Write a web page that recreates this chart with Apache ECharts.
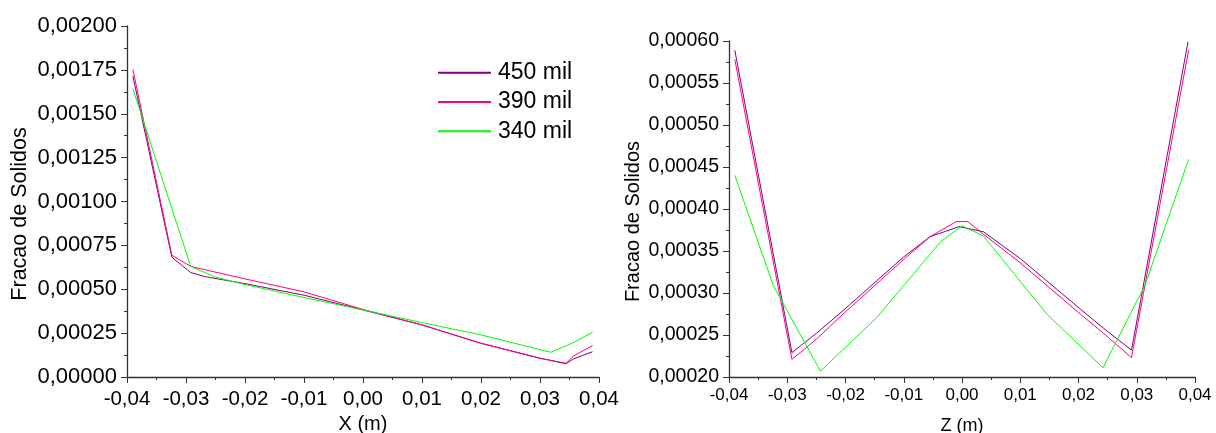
<!DOCTYPE html>
<html>
<head>
<meta charset="utf-8">
<script src="https://cdn.jsdelivr.net/npm/echarts@6/dist/echarts.min.js"></script>
<style>
html,body{margin:0;padding:0;background:#fff;}
#c{width:1216px;height:433px;}
</style>
</head>
<body>
<div id="c"></div>
<script>
// ----- Data -----
var seriesNames = ['450 mil', '390 mil', '340 mil'];
var seriesColors = ['#800080', '#FF0080', '#00FF00'];

// Left chart: X (m)
var leftX450 = [-0.039, -0.0324, -0.0292, -0.0268, -0.020, -0.010, 0.000, 0.010, 0.020, 0.030, 0.0344, 0.0357, 0.0389];
var leftY450 = [0.001714, 0.000683, 0.000595, 0.000572, 0.000532, 0.000466, 0.000382, 0.000297, 0.000192, 0.000107, 0.000076, 0.000103, 0.000144];
var leftX390 = [-0.039, -0.0324, -0.0292, -0.020, -0.010, 0.000, 0.010, 0.020, 0.030, 0.0344, 0.0357, 0.0389];
var leftY390 = [0.001752, 0.000694, 0.000630, 0.000559, 0.000485, 0.000385, 0.000297, 0.000192, 0.000107, 0.000078, 0.000120, 0.000179];
var leftX340 = [-0.039, -0.0292, -0.025, -0.020, -0.010, 0.000, 0.010, 0.020, 0.0318, 0.0354, 0.0389];
var leftY340 = [0.001642, 0.000630, 0.000569, 0.000527, 0.000453, 0.000382, 0.000310, 0.000240, 0.000141, 0.000192, 0.000255];

// Right chart: Z (m)
var rightX450 = [-0.039, -0.0292, -0.025, -0.0201, -0.010, -0.0055, -0.0005, 0.00366, 0.010, 0.0203, 0.0243, 0.0291, 0.0388];
var rightY450 = [0.000589, 0.000229, 0.000252, 0.000281, 0.000343, 0.000367, 0.000379, 0.000373, 0.000341, 0.000281, 0.000258, 0.000232, 0.000599];
var rightX390 = [-0.039, -0.0292, -0.025, -0.0201, -0.010, -0.0055, -0.001, 0.001, 0.00366, 0.010, 0.0203, 0.0243, 0.0291, 0.0389];
var rightY390 = [0.000578, 0.000221, 0.000245, 0.000277, 0.000340, 0.000367, 0.000385, 0.000385, 0.000370, 0.000336, 0.000275, 0.000252, 0.000223, 0.000589];
var rightX340 = [-0.039, -0.0324, -0.0243, -0.0146, -0.00366, 0.000, 0.00366, 0.01455, 0.0242, 0.0314, 0.0389];
var rightY340 = [0.000440, 0.000309, 0.000207, 0.000271, 0.000361, 0.000380, 0.000368, 0.000275, 0.000211, 0.000309, 0.000459];

var xTickFmt = function (v) { if (Math.abs(v) < 1e-9) v = 0; return v.toFixed(2).replace('.', ','); };
var yTickFmt = function (v) { if (Math.abs(v) < 1e-12) v = 0; return v.toFixed(5).replace('.', ','); };

function pairs(xs, ys) { return xs.map(function (x, i) { return [x, ys[i]]; }); }

var FONT = 'Liberation Sans, Arial, sans-serif';

function xAxisDef(gridIndex, name, fs, nfs, nameGap, lblMargin) {
  return {
    type: 'value', gridIndex: gridIndex, min: -0.04, max: 0.04, interval: 0.01,
    name: name, nameLocation: 'middle', nameGap: nameGap,
    nameTextStyle: { color: '#000', fontSize: nfs, fontFamily: FONT },
    axisLine: { show: true, onZero: false, lineStyle: { color: '#333', width: 1.3 } },
    axisTick: { show: true, inside: false, length: 6, lineStyle: { color: '#333', width: 1 } },
    minorTick: { show: true, splitNumber: 2, length: 3, lineStyle: { color: '#333', width: 1 } },
    splitLine: { show: false },
    axisLabel: { color: '#000', fontSize: fs, fontFamily: FONT, margin: lblMargin, formatter: xTickFmt, showMinLabel: true, showMaxLabel: true }
  };
}
function yAxisDef(gridIndex, min, max, interval, fs, nfs, nameGap, pad) {
  return {
    type: 'value', gridIndex: gridIndex, min: min, max: max, interval: interval,
    name: 'Fracao de Solidos', nameLocation: 'middle', nameGap: nameGap, nameRotate: 90,
    nameTextStyle: { color: '#000', fontSize: nfs, fontFamily: FONT, padding: pad },
    axisLine: { show: true, onZero: false, lineStyle: { color: '#333', width: 1.3 } },
    axisTick: { show: true, inside: false, length: 6, lineStyle: { color: '#333', width: 1 } },
    minorTick: { show: true, splitNumber: 2, length: 3, lineStyle: { color: '#333', width: 1 } },
    splitLine: { show: false },
    axisLabel: { color: '#000', fontSize: fs, fontFamily: FONT, margin: 10, formatter: yTickFmt, showMinLabel: true, showMaxLabel: true }
  };
}

function lineSeries(name, color, xi, yi, data) {
  return {
    type: 'line', name: name, xAxisIndex: xi, yAxisIndex: yi, data: data,
    showSymbol: false, symbol: 'none', smooth: false, animation: false,
    lineStyle: { color: color, width: 1 }, itemStyle: { color: color }
  };
}

var chart = echarts.init(document.getElementById('c'), null, { renderer: 'canvas' });
chart.setOption({
  backgroundColor: '#fff',
  animation: false,
  grid: [
    { left: 127, top: 26, width: 472, height: 351, containLabel: false, outerBoundsMode: 'none' },
    { left: 729, top: 41, width: 466, height: 336, containLabel: false, outerBoundsMode: 'none' }
  ],
  legend: {
    orient: 'vertical', left: 438, top: 58, padding: 0,
    itemWidth: 53, itemHeight: 2, itemGap: 0,
    icon: 'rect',
    data: seriesNames,
    textStyle: { color: '#000', fontSize: 23, fontFamily: FONT, lineHeight: 29.3, padding: [0, 0, 0, 2] },
    selectedMode: false
  },
  xAxis: [
    xAxisDef(0, 'X (m)', 20.5, 20, 34, 12),
    xAxisDef(1, 'Z (m)', 17, 18, 40, 10)
  ],
  yAxis: [
    yAxisDef(0, 0, 0.002, 0.00025, 22, 21.5, 96, [0, 25, 0, 0]),
    yAxisDef(1, 0.0002, 0.0006, 0.00005, 19.5, 20, 86, [0, 25, 0, 0])
  ],
  series: [
    lineSeries(seriesNames[0], seriesColors[0], 0, 0, pairs(leftX450, leftY450)),
    lineSeries(seriesNames[1], seriesColors[1], 0, 0, pairs(leftX390, leftY390)),
    lineSeries(seriesNames[2], seriesColors[2], 0, 0, pairs(leftX340, leftY340)),
    lineSeries(seriesNames[0], seriesColors[0], 1, 1, pairs(rightX450, rightY450)),
    lineSeries(seriesNames[1], seriesColors[1], 1, 1, pairs(rightX390, rightY390)),
    lineSeries(seriesNames[2], seriesColors[2], 1, 1, pairs(rightX340, rightY340))
  ]
});
</script>
</body>
</html>
